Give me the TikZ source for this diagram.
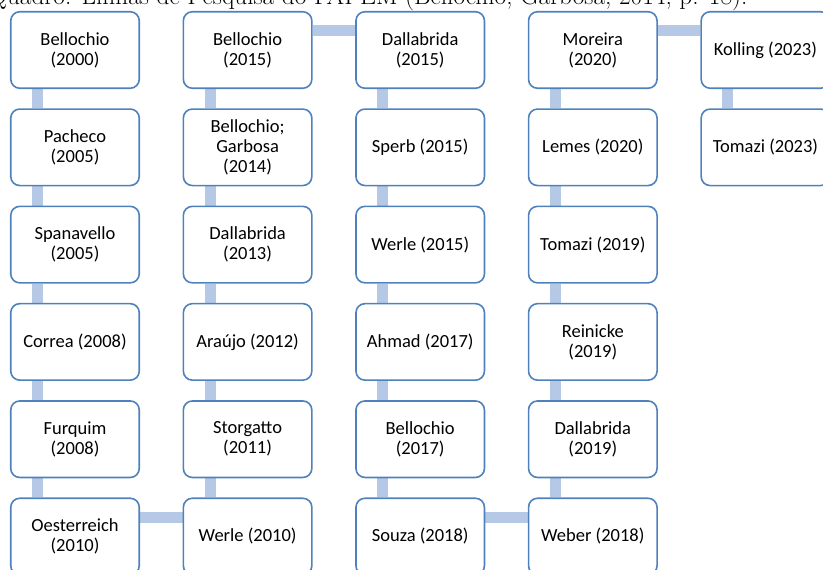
\documentclass[tikz,border=0pt]{standalone}
\usepackage{fontspec}
\setsansfont{Carlito}
\usepackage{tikz}
\usetikzlibrary{positioning,backgrounds}

\definecolor{boxline}{RGB}{79,129,189}
\definecolor{linkfill}{RGB}{181,200,230}

\begin{document}
\begin{tikzpicture}[x=1pt,y=-1pt,node distance=19.2pt and 42.5pt,
  every node/.style={align=center},
  box/.style={draw=boxline,line width=1.6pt,fill=white,rounded corners=9pt,
    minimum width=128.5pt,minimum height=76.5pt,inner sep=2pt,
    font=\sffamily\fontsize{18.5}{20}\selectfont},
  link/.style={linkfill,line width=11pt}]
\useasboundingbox (0,0) rectangle (823,570);
\node[anchor=base east,font=\fontsize{25.3}{28}\selectfont] (title) at (751,5) {Quadro: Linhas de Pesquisa do FAPEM (Bellochio; Garbosa, 2014, p. 18).};
% first column
\node[box] (A1) at (75,50) {Bellochio\\(2000)};
\node[box,below=of A1] (A2) {Pacheco\\(2005)};
\node[box,below=of A2] (A3) {Spanavello\\(2005)};
\node[box,below=of A3] (A4) {Correa (2008)};
\node[box,below=of A4] (A5) {Furquim\\(2008)};
\node[box,below=of A5] (A6) {Oesterreich\\(2010)};
% second column
\node[box,right=of A1] (B1) {Bellochio\\(2015)};
\node[box,below=of B1] (B2) {Bellochio;\\Garbosa\\(2014)};
\node[box,below=of B2] (B3) {Dallabrida\\(2013)};
\node[box,below=of B3] (B4) {Araújo (2012)};
\node[box,below=of B4] (B5) {Storgatto\\(2011)};
\node[box,below=of B5] (B6) {Werle (2010)};
% third column
\node[box,right=of B1] (C1) {Dallabrida\\(2015)};
\node[box,below=of C1] (C2) {Sperb (2015)};
\node[box,below=of C2] (C3) {Werle (2015)};
\node[box,below=of C3] (C4) {Ahmad (2017)};
\node[box,below=of C4] (C5) {Bellochio\\(2017)};
\node[box,below=of C5] (C6) {Souza (2018)};
% fourth column
\node[box,right=of C1] (D1) {Moreira\\(2020)};
\node[box,below=of D1] (D2) {Lemes (2020)};
\node[box,below=of D2] (D3) {Tomazi (2019)};
\node[box,below=of D3] (D4) {Reinicke\\(2019)};
\node[box,below=of D4] (D5) {Dallabrida\\(2019)};
\node[box,below=of D5] (D6) {Weber (2018)};
% fifth column
\node[box,right=of D1] (E1) {Kolling (2023)};
\node[box,below=of E1] (E2) {Tomazi (2023)};
\begin{scope}[on background layer]
\foreach \c in {A,B,C,D} {
  \foreach \r [evaluate=\r as \n using int(\r+1)] in {1,...,5} {
    \draw[link] ([xshift=27.5pt]\c\r.south west) -- ([xshift=27.5pt]\c\n.north west);
  }
}
\draw[link] ([xshift=27.5pt]E1.south west) -- ([xshift=27.5pt]E2.north west);
\draw[link] ([yshift=-20pt]A6.north east) -- ([yshift=-20pt]B6.north west);
\draw[link] ([yshift=-20pt]B1.north east) -- ([yshift=-20pt]C1.north west);
\draw[link] ([yshift=-20pt]C6.north east) -- ([yshift=-20pt]D6.north west);
\draw[link] ([yshift=-20pt]D1.north east) -- ([yshift=-20pt]E1.north west);
\end{scope}
\end{tikzpicture}
\end{document}
